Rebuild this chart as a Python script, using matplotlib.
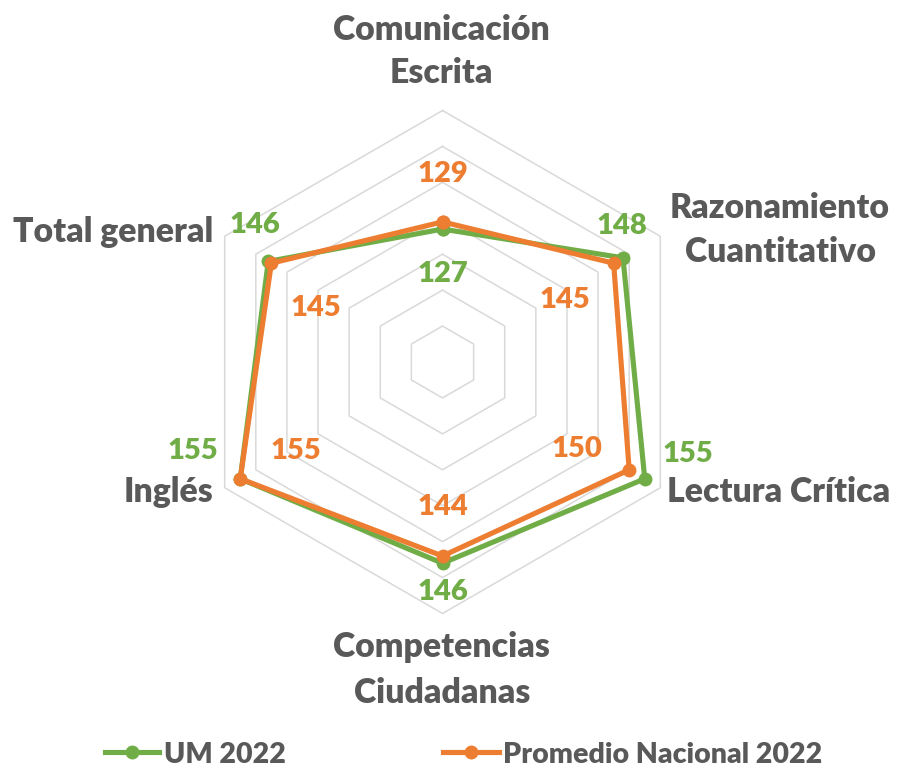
import numpy as np
import matplotlib
matplotlib.use("Agg")
import matplotlib.pyplot as plt
from matplotlib.lines import Line2D

# ---- data ----
categories = ["Comunicación\nEscrita", "Razonamiento\nCuantitativo", "Lectura Crítica",
              "Competencias\nCiudadanas", "Inglés", "Total general"]
series_names = ["UM 2022", "Promedio Nacional 2022"]
um_2022 = [127, 148, 155, 146, 155, 146]
nacional_2022 = [129, 145, 150, 144, 155, 145]
r_min, r_max, r_step = 90, 160, 10

# ---- style ----
W, H = 899, 772
GREEN = "#70AD47"
ORANGE = "#ED7D31"
GREY_TXT = "#595959"
GRID = "#D9D9D9"
FONT = ["Lato", "DejaVu Sans"]
plt.rcParams['font.family'] = FONT
WEIGHT = "heavy"

cx, cy = 442.5, 362.0          # plot centre in pixels (from top-left)
R_px = 251.5                   # outer radius in pixels
ppu = R_px / (r_max - r_min)   # pixels per data unit

fig = plt.figure(figsize=(W / 100, H / 100), dpi=100)
fig.patch.set_facecolor("white")
ax = fig.add_axes([0, 0, 1, 1])
ax.set_xlim(-cx / ppu, (W - cx) / ppu)
ax.set_ylim(-(H - cy) / ppu, cy / ppu)
ax.axis("off")

n = len(categories)
theta = np.deg2rad(90 - np.arange(n) * 360 / n)
theta_c = np.append(theta, theta[0])

# hexagonal grid
for lvl in np.arange(r_min + r_step, r_max + 0.1, r_step):
    r = lvl - r_min
    ax.plot(r * np.cos(theta_c), r * np.sin(theta_c), color=GRID, lw=1.1, zorder=1)

def xy(vals):
    v = np.append(np.asarray(vals, float), vals[0]) - r_min
    return v * np.cos(theta_c), v * np.sin(theta_c)

for vals, col in [(um_2022, GREEN), (nacional_2022, ORANGE)]:
    x, y = xy(vals)
    ax.plot(x, y, color=col, lw=3.7, marker="o", markersize=10,
            markeredgewidth=0, solid_joinstyle="miter", zorder=3)

# data label offsets (pixels, dx right, dy down) of label centres
green_off = [(0, 43), (-1, -34), (43, -27), (0, 27), (-47, -30), (-13, -38)]
orange_off = [(0, -50), (-48.6, 35), (-52.5, -23), (0, -51), (55.7, -30), (44.6, 43)]
half_cap = 9.9
fs_num = 21.0
for vals, col, offs in [(um_2022, GREEN, green_off), (nacional_2022, ORANGE, orange_off)]:
    x, y = xy(vals)
    for i, v in enumerate(vals):
        dx, dy = offs[i]
        ax.annotate(f"{v}", xy=(x[i], y[i]), xytext=(dx, -dy - half_cap),
                    textcoords="offset pixels", ha="center", va="baseline",
                    color=col, fontsize=fs_num, fontweight=WEIGHT, zorder=4)

# category labels (pixel positions of baselines)
fs_cat = 24.3
cat_pos = [
    [(441.7, 40, "center"), (441.7, 83, "center")],
    [(780, 218, "center"), (780.5, 262, "center")],
    [(779, 502, "center")],
    [(441.7, 657, "center"), (441.7, 703, "center")],
    [(213, 502, "right")],
    [(213, 242, "right")],
]
for label, poss in zip(categories, cat_pos):
    for line, (px, py, ha) in zip(label.split("\n"), poss):
        fig.text(px / W, 1 - py / H, line, ha=ha, va="baseline",
                 color=GREY_TXT, fontsize=fs_cat, fontweight=WEIGHT)

# legend
leg = [(GREEN, 105, 159, 164), (ORANGE, 443, 499, 503)]
leg_y = 752
for (col, x0, x1, tx), name in zip(leg, series_names):
    fig.add_artist(Line2D([x0 / W, (x0 + x1) / 2 / W, x1 / W], [1 - leg_y / H] * 3,
                          transform=fig.transFigure, color=col, lw=3.7,
                          marker="o", markersize=10, markevery=[1], markeredgewidth=0))
    fig.text(tx / W, 1 - 763 / H, name, ha="left", va="baseline",
             color=GREY_TXT, fontsize=20.5, fontweight=WEIGHT)

fig.savefig("out.png", dpi=100, facecolor="white")
